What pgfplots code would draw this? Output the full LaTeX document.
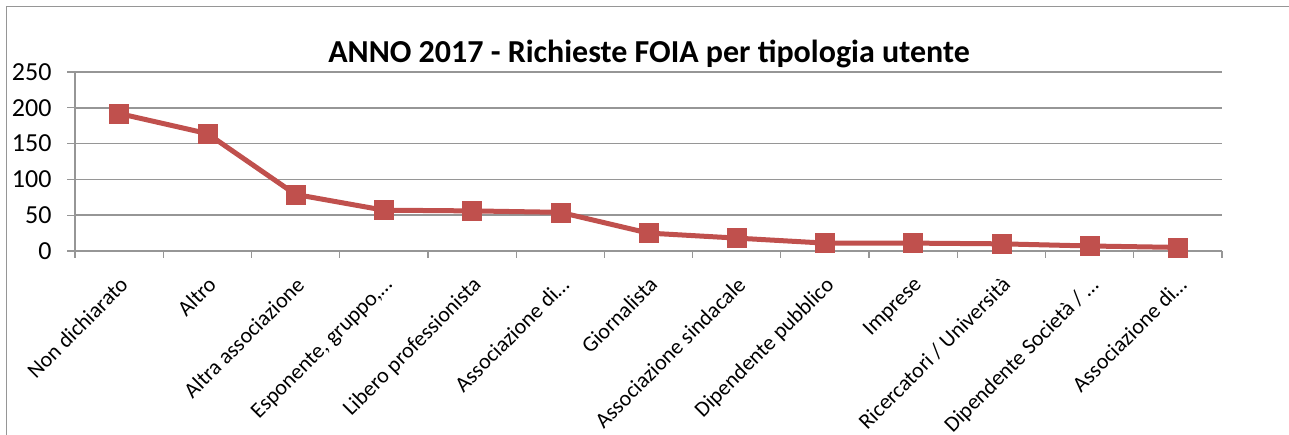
\documentclass[border=0pt]{standalone}
\usepackage{pgfplots}
\pgfplotsset{compat=1.18}
\usepackage{fontspec}
\setmainfont{Carlito}
\definecolor{xlred}{RGB}{192,80,77}
\definecolor{gridgray}{RGB}{150,150,150}
\begin{document}
\begin{tikzpicture}[x=1pt,y=1pt]
\path[use as bounding box] (0,0) rectangle (1289,435);
\draw[gridgray,line width=1.5pt] (6.5,-20) -- (6.5,428.5) -- (1320,428.5);
\node[anchor=base,font=\fontsize{32}{36}\selectfont\bfseries] at (649,372) {ANNO 2017 - Richieste FOIA per tipologia utente};
\begin{axis}[
  at={(75pt,184pt)}, anchor=south west,
  scale only axis, width=1147pt, height=179pt,
  xmin=-0.5, xmax=12.5, ymin=0, ymax=250,
  ytick={0,50,...,250},
  xtick={0,...,12},
  xticklabels={Non dichiarato,Altro,Altra associazione,{Esponente, gruppo,…},Libero professionista,Associazione di…,Giornalista,Associazione sindacale,Dipendente pubblico,Imprese,Ricercatori / Università,Dipendente Società / …,Associazione di…},
  major x tick style={draw=none},
  minor xtick={-0.5,0.5,...,12.5},
  minor tick length=7pt,
  minor x tick style={gridgray,line width=1.2pt},
  major tick length=8pt,
  tick align=outside,
  ytick style={gridgray,line width=1.2pt},
  ymajorgrids, grid style={gridgray,line width=1.5pt},
  axis x line*=bottom, axis y line*=left,
  x axis line style={gridgray,line width=2.5pt,-},
  y axis line style={gridgray,line width=1.5pt,-},
  tick label style={font=\fontsize{22}{25}\selectfont},
  /pgf/number format/assume math mode=true,
  yticklabel style={font=\fontsize{26}{28}\selectfont, xshift=-12pt},
  xticklabel style={rotate=45, anchor=north east, inner sep=2pt, xshift=-10pt, yshift=-9pt},
  clip=false,
]
\addplot[xlred, line width=5pt, mark=square*, mark size=9.5pt, mark options={fill=xlred,draw=xlred,line width=0.5pt}]
coordinates {(0,192) (1,164) (2,79) (3,57) (4,56) (5,54) (6,25) (7,18) (8,11) (9,11) (10,10) (11,7) (12,5)};
\end{axis}
\end{tikzpicture}
\end{document}
